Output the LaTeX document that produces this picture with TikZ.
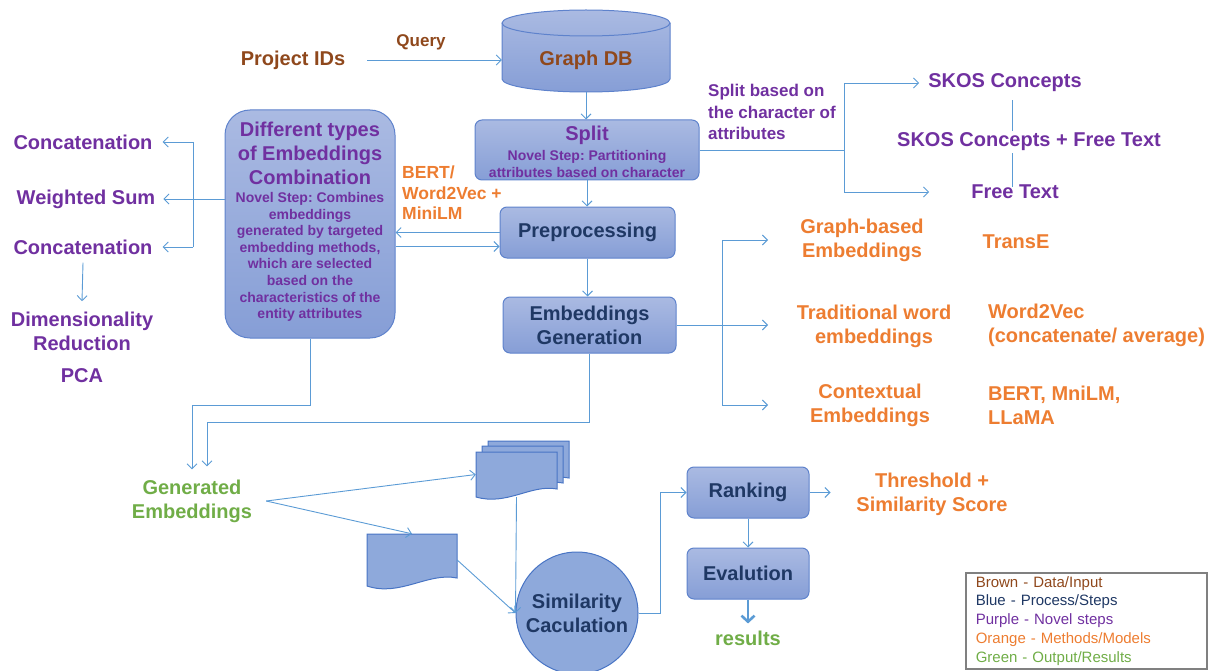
\documentclass[tikz,border=0pt]{standalone}
\usepackage{fontspec}
\setmainfont{Liberation Sans}
\usetikzlibrary{arrows.meta}
\frenchspacing
\definecolor{dbbrown}{RGB}{143,72,28}
\definecolor{novpurple}{RGB}{112,48,160}
\definecolor{mthorange}{RGB}{237,125,49}
\definecolor{outgreen}{RGB}{112,173,71}
\definecolor{stepblue}{RGB}{31,56,100}
\definecolor{linkblue}{RGB}{91,155,213}
\definecolor{boxtop}{RGB}{170,186,226}
\definecolor{boxbot}{RGB}{134,158,214}
\definecolor{boxline}{RGB}{94,130,204}
\definecolor{docfill}{RGB}{142,169,219}
\definecolor{docline}{RGB}{72,116,196}
\begin{document}
\begin{tikzpicture}[x=1pt, y=-1pt,
  lbl/.style={font=\bfseries\fontsize{20}{24}\selectfont, align=center, inner sep=2pt},
  note/.style={font=\bfseries\fontsize{14}{16.6}\selectfont, align=center, inner sep=1pt},
  box/.style={draw=boxline, line width=1pt, top color=boxtop, bottom color=boxbot, rounded corners=7pt, text=stepblue, font=\bfseries\fontsize{20}{24}\selectfont, align=center},
  link/.style={draw=linkblue, line width=0.9pt},
  arr/.style={link, -{Straight Barb[length=5pt,width=10pt]}}]
\useasboundingbox (0,0) rectangle (1217,671);
% input and graph database
\node[lbl, text=dbbrown] (pid) at (293,60) {Project IDs};
\node[lbl, text=dbbrown, font=\bfseries\fontsize{17}{20}\selectfont] (query) at (421,42) {Query};
\shadedraw[draw=boxline, line width=1pt, top color=boxtop, bottom color=boxbot] (502,23) -- (502,79) arc[start angle=180, end angle=360, x radius=84pt, y radius=13pt] -- (670,23) arc[start angle=0, end angle=180, x radius=84pt, y radius=13pt] -- cycle;
\draw[boxline, line width=1pt] (502,23) arc[start angle=180, end angle=360, x radius=84pt, y radius=13pt];
\node[lbl, text=dbbrown, minimum width=168pt, minimum height=64pt] (gdb) at (586,60) {Graph DB};
\draw[arr] ([xshift=20pt]pid.east) -- (pid.east -| gdb.west);
% split step
\node[box, minimum width=224pt, minimum height=60pt] (split) at (587,150) {};
\node[lbl, text=novpurple] (splittl) at (587,135) {Split};
\node[note, text=novpurple, font=\bfseries\fontsize{14}{17}\selectfont] (splitnt) at (587,164) {Novel Step: Partitioning\\attributes based on character};
\draw[arr] (gdb.south) -- (gdb.south |- split.north);
\node[lbl, text=novpurple, align=left, anchor=west, font=\bfseries\fontsize{17}{21.5}\selectfont] (splitby) at (706,112) {Split based on\\the character of\\attributes};
\node[lbl, text=novpurple] (skos) at (1005,83) {SKOS Concepts};
\node[lbl, text=novpurple] (both) at (1029,142) {SKOS Concepts + Free Text};
\node[lbl, text=novpurple] (free) at (1015,192) {Free Text};
\coordinate (skosbrk) at (844,147);
\coordinate (skosl) at ([xshift=7pt]skos.south);
\draw[link] (split.east) -- (split.east -| skosbrk);
\draw[link] (skosbrk |- skos) -- (skosbrk |- free);
\draw[arr] (skosbrk |- skos) -- ([xshift=-7pt]skos.west);
\draw[arr] (skosbrk |- free) -- ([xshift=-40pt]free.west);
\draw[link] ([yshift=-6pt]skosl) -- (skosl |- both.north);
\draw[link] (skosl |- both.south) -- ([yshift=-4pt]skosl |- free.north);
% preprocessing and embeddings
\node[box, minimum width=175pt, minimum height=51pt] (prep) at (587.5,232.5) {Preprocessing};
\node[box, minimum width=173pt, minimum height=56pt] (emb) at (589.5,325) {Embeddings\\Generation};
\draw[arr] (split.south) -- (split.south |- prep.north);
\draw[arr] (prep.south) -- (prep.south |- emb.north);
% combination step
\node[box, rounded corners=25pt, minimum width=170pt, minimum height=228pt] (diff) at (310,224) {};
\node[lbl, text=novpurple] (difftl) at (310,153) {Different types\\of Embeddings\\Combination};
\node[note, text=novpurple] (diffnt) at (310,257) {Novel Step: Combines\\embeddings\\generated by targeted\\embedding methods,\\which are selected\\based on the\\characteristics of the\\entity attributes};
\node[lbl, text=mthorange, align=left, anchor=west, font=\bfseries\fontsize{17.5}{20.5}\selectfont] (bertlbl) at (400,193) {BERT/\\Word2Vec +\\MiniLM};
\coordinate (prepin) at ([yshift=-14pt]prep.west);
\draw[arr] (prep.west) -- (prep.west -| diff.east);
\draw[arr] (prepin -| diff.east) -- (prepin);
% combination methods
\node[lbl, text=novpurple] (cat1) at (83,142) {Concatenation};
\node[lbl, text=novpurple] (wsum) at (86,199) {Weighted Sum};
\node[lbl, text=novpurple] (cat2) at (83,247) {Concatenation};
\node[lbl, text=novpurple, font=\bfseries\fontsize{20}{23.5}\selectfont] (dimred) at (82,331.5) {Dimensionality\\Reduction};
\node[lbl, text=novpurple] (pca) at (82,376) {PCA};
\coordinate (combbrk) at (193,199);
\draw[arr] (diff.west |- wsum) -- ([xshift=6pt]wsum.east);
\draw[link] (combbrk |- cat1) -- (combbrk |- cat2);
\draw[arr] (combbrk |- cat1) -- ([xshift=8pt]cat1.east);
\draw[arr] (combbrk |- cat2) -- ([xshift=8pt]cat2.east);
\draw[arr] ([yshift=-6pt]cat2.south) -- ([yshift=9pt]dimred.north);
% embedding methods
\node[lbl, text=mthorange] (graphemb) at (862,240) {Graph-based\\Embeddings};
\node[lbl, text=mthorange] (trademb) at (874,326) {Traditional word\\embeddings};
\node[lbl, text=mthorange] (ctxemb) at (870,405) {Contextual\\Embeddings};
\node[lbl, text=mthorange] (transe) at (1016,242) {TransE};
\node[lbl, text=mthorange, align=left, anchor=west] (w2v) at (986,325) {Word2Vec\\(concatenate/ average)};
\node[lbl, text=mthorange, align=left, anchor=west] (bertm) at (986,405) {BERT, MniLM,\\LLaMA};
\coordinate (mthbrk) at (722,326);
\coordinate (mthtip) at (768,326);
\draw[arr] (emb.east) -- (emb.east -| mthtip);
\draw[link] (mthbrk |- graphemb) -- (mthbrk |- ctxemb);
\draw[arr] (mthbrk |- graphemb) -- (mthtip |- graphemb);
\draw[arr] (mthbrk |- ctxemb) -- (mthtip |- ctxemb);
% generated embeddings and similarity
\node[lbl, text=outgreen] (gen) at (192,501) {Generated\\Embeddings};
\draw[arr] (diff.south) -- ++(0,67) -| ([yshift=8pt]gen.north);
\draw[arr] (emb.south) -- ++(0,69) -| ([xshift=15pt,yshift=11pt]gen.north);
\filldraw[fill=docfill, draw=docline, line width=1pt] (488,441) -- (569,441) -- (569,478) .. controls (543,473) and (519,495) .. (488,486) -- cycle;
\filldraw[fill=docfill, draw=docline, line width=1pt] (482,446) -- (563,446) -- (563,483) .. controls (537,478) and (513,500) .. (482,491) -- cycle;
\filldraw[fill=docfill, draw=docline, line width=1pt] (476,452) -- (557,452) -- (557,489) .. controls (531,484) and (507,506) .. (476,497) -- cycle;
\filldraw[fill=docfill, draw=docline, line width=1pt] (367,534) -- (457,534) -- (457,578) .. controls (428,572) and (400,597) .. (367,586) -- cycle;
\node[minimum width=81pt, minimum height=45pt, inner sep=0pt] (mdoc) at (516.5,474.5) {};
\node[minimum width=90pt, minimum height=52pt, inner sep=0pt] (sdoc) at (412,560) {};
\node[circle, draw=docline, fill=docfill, line width=1pt, minimum size=122pt, lbl, text=stepblue] (sim) at (577,613) {Similarity\\Caculation};
\draw[arr] ([xshift=12pt]gen.east) -- (mdoc.west);
\draw[arr] ([xshift=12pt]gen.east) -- (sdoc.north);
\draw[arr] (mdoc.south) -- (sim.west);
\draw[arr] (sdoc.east) -- (sim.west);
% ranking and evaluation
\node[box, minimum width=122pt, minimum height=51pt] (rank) at (748,492.5) {Ranking};
\node[box, minimum width=122pt, minimum height=51pt] (eval) at (748,573.5) {Evalution};
\node[lbl, text=mthorange] (thresh) at (932,494) {Threshold +\\Similarity Score};
\node[lbl, text=outgreen] (res) at (748,638) {results};
\draw[arr] (sim.east) -- ++(22,0) |- (rank.west);
\draw[arr] (rank.east) -- ++(21,0);
\draw[arr] (rank.south) -- (eval.north);
\draw[link, line width=2.6pt, -{Straight Barb[length=6pt,width=13pt]}] (eval.south) -- ([yshift=5pt]res.north);
% legend
\node[draw=gray, line width=1.6pt, align=left, anchor=north west, text width=221pt, inner xsep=10pt, inner ysep=3pt, minimum height=96pt, font=\fontsize{15}{18.75}\selectfont] (legend) at (965,572) {\textcolor{dbbrown}{Brown - Data/Input}\\\textcolor{stepblue}{Blue - Process/Steps}\\\textcolor{novpurple}{Purple - Novel steps}\\\textcolor{mthorange}{Orange - Methods/Models}\\\textcolor{outgreen}{Green - Output/Results}};
\end{tikzpicture}
\end{document}
